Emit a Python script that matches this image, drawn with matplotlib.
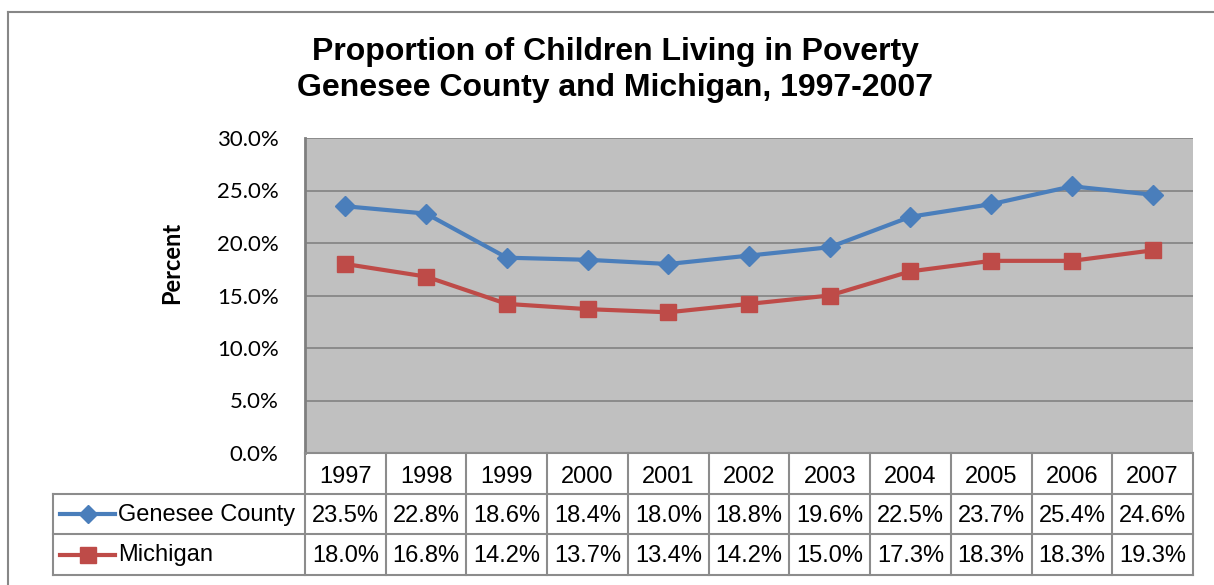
import matplotlib
matplotlib.use("Agg")
import matplotlib.pyplot as plt
from matplotlib.lines import Line2D

years = ["1997", "1998", "1999", "2000", "2001", "2002", "2003", "2004", "2005", "2006", "2007"]
genesee = [23.5, 22.8, 18.6, 18.4, 18.0, 18.8, 19.6, 22.5, 23.7, 25.4, 24.6]
michigan = [18.0, 16.8, 14.2, 13.7, 13.4, 14.2, 15.0, 17.3, 18.3, 18.3, 19.3]
series_names = ["Genesee County", "Michigan"]
yticks = [0, 5, 10, 15, 20, 25, 30]

plt.rcParams['font.family'] = ['Liberation Sans', 'DejaVu Sans']

W, H = 1214, 585
fig = plt.figure(figsize=(W / 100, H / 100), dpi=100)
fig.patch.set_facecolor('white')

def px(x0, y0, x1, y1):
    return [x0 / W, 1 - y1 / H, (x1 - x0) / W, (y1 - y0) / H]

blue = '#4A7EBB'
red = '#BE4B48'
gridc = '#878787'

# --- plot area ---
ax = fig.add_axes(px(305, 138, 1193, 453))
ax.set_facecolor('#C0C0C0')
x = list(range(len(years)))
ax.plot(x, genesee, color=blue, lw=3, marker='D', ms=10, zorder=3)
ax.plot(x, michigan, color=red, lw=3, marker='s', ms=12, zorder=3)
ax.set_xlim(-0.5, len(years) - 0.5)
ax.set_ylim(0, 30)
ax.set_xticks([])
ax.set_yticks(yticks)
ax.set_yticklabels([f"{v:.1f}%" for v in yticks], family='Lato', fontsize=16)
ax.tick_params(axis='y', length=0, pad=19)
ax.yaxis.grid(True, color=gridc, lw=1.3)
ax.set_axisbelow(True)
for s in ['top', 'right', 'bottom']:
    ax.spines[s].set_visible(False)
ax.spines['left'].set_color('#7F7F7F')
ax.spines['left'].set_linewidth(2)

# --- data table below the plot ---
upx = len(years) / (1193 - 305)
left = -0.5 - (305 - 53) * upx
tax = fig.add_axes(px(53, 453, 1193, 575))
tax.set_xlim(left, len(years) - 0.5)
tax.set_ylim(3, 0)
tax.axis('off')
lc = '#8C8C8C'
right = len(years) - 0.5
tax.plot([-0.5, right], [0, 0], color=lc, lw=1.5, clip_on=False)
for yy in [1, 2, 3]:
    tax.plot([left, right], [yy, yy], color=lc, lw=1.5, clip_on=False)
for k in range(len(years) + 1):
    tax.plot([k - 0.5, k - 0.5], [0, 3], color=lc, lw=1.5, clip_on=False)
tax.plot([left, left], [1, 3], color=lc, lw=1.5, clip_on=False)

fs = 17
for i, yr in enumerate(years):
    tax.text(i, 0.58, yr, ha='center', va='center', fontsize=fs)
    tax.text(i, 1.54, f"{genesee[i]:.1f}%", ha='center', va='center', fontsize=fs)
    tax.text(i, 2.54, f"{michigan[i]:.1f}%", ha='center', va='center', fontsize=fs)

lx0 = left + (60 - 53) * upx
lx1 = left + (115 - 53) * upx
lxm = left + (88 - 53) * upx
tx = left + (118 - 53) * upx
tax.plot([lx0, lx1], [1.5, 1.5], color=blue, lw=3)
tax.plot([lxm], [1.5], color=blue, marker='D', ms=9)
tax.plot([lx0, lx1], [2.5, 2.5], color=red, lw=3)
tax.plot([lxm], [2.5], color=red, marker='s', ms=11)
tax.text(tx, 1.52, series_names[0], ha='left', va='center', fontsize=fs)
tax.text(tx, 2.52, series_names[1], ha='left', va='center', fontsize=fs)

# --- titles ---
fig.text(615 / W, 1 - 70 / H,
         "Proportion of Children Living in Poverty\nGenesee County and Michigan, 1997-2007",
         ha='center', va='center', fontsize=23, fontweight='bold', linespacing=1.28)
fig.text(172 / W, 1 - 263 / H, "Percent", rotation=90, ha='center', va='center',
         family='Lato', fontweight='bold', fontsize=17)

# outer chart border
fig.add_artist(Line2D([8 / W, 8 / W], [0, 1 - 12 / H], color='#878787', lw=1.5))
fig.add_artist(Line2D([8 / W, 1], [1 - 12 / H, 1 - 12 / H], color='#878787', lw=1.5))

fig.savefig("out.png", dpi=100)
plt.close(fig)
